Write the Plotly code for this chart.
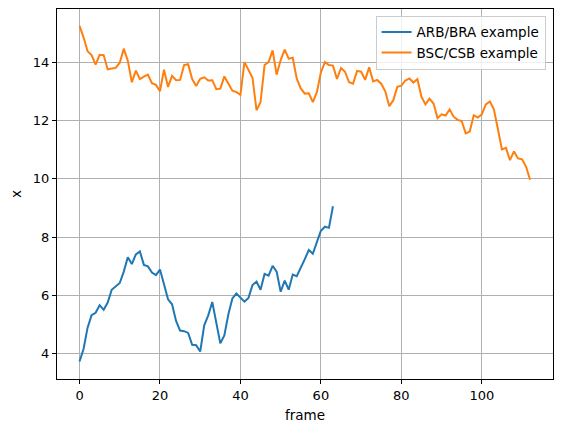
import plotly.graph_objects as go

arb_bra = [3.74, 4.17, 4.9, 5.33, 5.41, 5.67, 5.51, 5.76, 6.2, 6.3,
           6.43, 6.82, 7.31, 7.08, 7.41, 7.51, 7.05, 7.0, 6.79, 6.7,
           6.89, 6.39, 5.87, 5.7, 5.13, 4.8, 4.78, 4.72, 4.31, 4.3,
           4.08, 4.98, 5.32, 5.78, 5.13, 4.36, 4.63, 5.36, 5.9, 6.07,
           5.93, 5.79, 5.92, 6.36, 6.48, 6.2, 6.74, 6.68, 7.02, 6.82,
           6.13, 6.51, 6.2, 6.72, 6.66, 6.93, 7.25, 7.56, 7.43, 7.83,
           8.22, 8.36, 8.32, 9.06]

bsc_csb = [15.24, 14.85, 14.37, 14.24, 13.91, 14.25, 14.24, 13.75, 13.78, 13.8,
           13.98, 14.46, 14.05, 13.31, 13.71, 13.42, 13.5, 13.57, 13.28, 13.22,
           13.0, 13.74, 13.15, 13.53, 13.38, 13.39, 13.9, 13.93, 13.42, 13.18,
           13.43, 13.48, 13.37, 13.38, 13.07, 13.09, 13.51, 13.28, 13.02, 12.97,
           12.88, 14.0, 13.73, 13.46, 12.35, 12.63, 13.9, 14.0, 14.4, 13.57,
           14.07, 14.43, 14.12, 14.15, 13.43, 13.1, 12.92, 12.93, 12.63, 12.97,
           13.65, 14.0, 13.9, 13.88, 13.42, 13.8, 13.67, 13.31, 13.26, 13.7,
           13.67, 13.39, 13.82, 13.34, 13.39, 13.26, 13.0, 12.49, 12.69, 13.15,
           13.19, 13.37, 13.44, 13.3, 13.42, 12.81, 12.55, 12.75, 12.58, 12.08,
           12.21, 12.17, 12.38, 12.13, 12.02, 11.98, 11.56, 11.62, 12.18, 12.1,
           12.21, 12.55, 12.65, 12.38, 11.71, 11.01, 11.06, 10.64, 10.94, 10.7,
           10.67, 10.42, 9.97]

x_ticks = [0, 20, 40, 60, 80, 100]
y_ticks = [4, 6, 8, 10, 12, 14]

fig = go.Figure()
fig.add_trace(go.Scatter(x=list(range(len(arb_bra))), y=arb_bra, mode="lines",
                         name="ARB/BRA example", line=dict(color="#1f77b4", width=2)))
fig.add_trace(go.Scatter(x=list(range(len(bsc_csb))), y=bsc_csb, mode="lines",
                         name="BSC/CSB example", line=dict(color="#ff7f0e", width=2)))

axis_common = dict(showline=True, linecolor="black", linewidth=1.1, mirror=True,
                   ticks="outside", ticklen=4, tickcolor="black", tickwidth=1,
                   showgrid=True, gridcolor="#b0b0b0", gridwidth=1, zeroline=False,
                   tickfont=dict(family="DejaVu Sans", size=13, color="black"))

fig.update_layout(
    width=562, height=432,
    margin=dict(l=57, r=9, t=9, b=53),
    paper_bgcolor="white", plot_bgcolor="white",
    font=dict(family="DejaVu Sans", size=13, color="black"),
    xaxis=dict(range=[-5.6, 117.7], tickvals=x_ticks,
               title=dict(text="frame", standoff=8, font=dict(size=13.5)), **axis_common),
    yaxis=dict(range=[3.14, 15.82], tickvals=y_ticks,
               title=dict(text="x", standoff=8, font=dict(size=13.5)), **axis_common),
    legend=dict(x=0.985, y=0.982, xanchor="right", yanchor="top",
                bgcolor="rgba(255,255,255,0.8)", bordercolor="#cccccc", borderwidth=1,
                font=dict(family="DejaVu Sans", size=13.5)),
)

fig.write_html("out.html")
